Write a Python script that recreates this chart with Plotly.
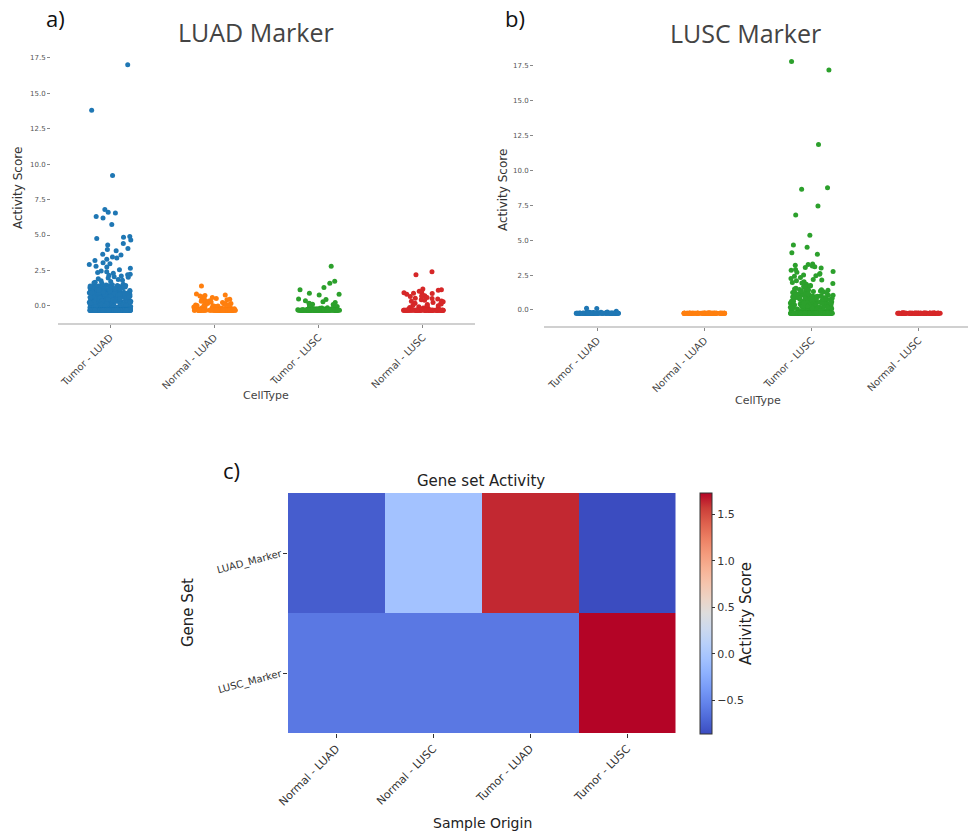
import math
import plotly.graph_objects as go

# ---------------- data ----------------
cell_types = ["Tumor - LUAD", "Normal - LUAD", "Tumor - LUSC", "Normal - LUSC"]
point_colors = ["#1f77b4", "#ff7f0e", "#2ca02c", "#d62728"]

# Panel a) LUAD Marker activity score of each cell, by cell type
a_tumor_luad = [17.0, 13.8, 9.2, 6.8, 6.6, 6.55, 6.3, 6.2, 5.75, 4.9, 4.85, 4.75, 4.65,
                4.4, 4.3, 4.05, 3.98, 3.9, 3.65, 3.6, 3.45, 3.38, 3.3, 3.2, 3.05, 2.98,
                2.92, 2.8, 2.74, 2.66, 2.55, 2.47, 2.41, 2.36, 2.3, 2.24, 2.2, 2.16, 2.11,
                2.06, 2.02, 1.97, 1.92, 1.86, 1.82, 1.77, 1.73, 1.68, 1.64, 1.61, 1.57, 1.53,
                1.49, 1.47, 1.44, 1.43, 1.4, 1.38, 1.36, 1.35, 1.32, 1.3, 1.29, 1.26, 1.24,
                1.23, 1.2, 1.18, 1.17, 1.14, 1.12, 1.11, 1.08, 1.06, 1.05, 1.02, 1.0, 0.99,
                0.97, 0.95, 0.93, 0.92, 0.9, 0.88, 0.86, 0.85, 0.83, 0.81, 0.8, 0.78, 0.76,
                0.75, 0.73, 0.71, 0.7, 0.68, 0.66, 0.65, 0.63, 0.62, 0.6, 0.58, 0.57, 0.55,
                0.54, 0.52, 0.51, 0.49, 0.48, 0.46, 0.45, 0.43, 0.42, 0.4, 0.39, 0.37, 0.36,
                0.35, 0.33, 0.32, 0.3, 0.29, 0.27, 0.26, 0.25, 0.23, 0.22, 0.2, 0.19, 0.18,
                0.16, 0.15, 0.14, 0.12, 0.11, 0.1, 0.08, 0.07, 0.06, 0.04, 0.03, 0.02, 0.0,
                -0.01, -0.02, -0.04, -0.05, -0.06, -0.07, -0.09, -0.1, -0.11, -0.12, -0.13,
                -0.15, -0.16, -0.17, -0.18, -0.19, -0.2, -0.21, -0.22, -0.23, -0.24, -0.25,
                -0.26, -0.27, -0.28,
                1.45, 1.41, 1.37, 1.33, 1.28, 1.25, 1.21, 1.16, 1.13, 1.09, 1.07, 1.03, 1.01,
                0.98, 0.96, 0.94, 0.91, 0.89, 0.87, 0.84, 0.82, 0.79, 0.77, 0.74, 0.72, 0.69,
                0.67, 0.64, 0.61, 0.59, 0.56, 0.53, 0.5, 0.47, 0.44, 0.41, 0.38, 0.34, 0.31,
                0.28, 0.24, 0.21, 0.17, 0.13, 0.09, 0.05, 0.01, -0.03, -0.08, -0.14, -0.2,
                -0.25, 1.34, 1.27, 1.19, 1.1, 1.04, 0.96, 0.9, 0.87, 0.83, 0.79, 0.73, 0.69,
                0.64, 0.6, 0.56, 0.52, 0.48, 0.44, 0.4, 0.37, 0.33, 0.29, 0.25, 0.21, 0.18,
                0.14, 0.1, 0.06, 0.02, -0.02, -0.06, -0.1, -0.14, -0.18, -0.22, -0.26, 1.22,
                1.15, 1.06, 0.98, 0.92, 0.86, 0.8, 0.74, 0.68, 0.62, 0.57, 0.53, 0.47, 0.43,
                0.38, 0.33, 0.28, 0.23, 0.19, 0.15, 0.11, 0.07, 0.03, -0.01, -0.05, -0.09,
                -0.13, -0.17, -0.21, -0.24, -0.27, 0.95, 0.85, 0.75, 0.66, 0.58, 0.5, 0.42,
                0.35, 0.27, 0.2, 0.12, 0.04, -0.04, -0.11, -0.19, -0.23, -0.26, -0.28,
                1.12, 0.97, 0.81, 0.63, 0.46, 0.31, 0.16, 0.0, -0.12, -0.2, -0.24, -0.27,
                ] + [-0.3] * 150
a_normal_luad = [1.4, 0.85, 0.78, 0.74, 0.7, 0.66, 0.6, 0.55, 0.52, 0.47, 0.44, 0.4, 0.37, 0.33,
                 0.3, 0.27, 0.24, 0.2, 0.18, 0.15, 0.12, 0.1, 0.07, 0.05, 0.02, 0.0, -0.03, -0.05,
                 -0.08, -0.1, -0.12, -0.15, -0.17, -0.2, -0.22, -0.24, -0.26, 0.48, 0.36, 0.28,
                 0.17, 0.09, 0.03, -0.02, -0.07, -0.11, -0.14, -0.18, -0.21, -0.23, -0.25,
                 -0.27, -0.28, -0.16, -0.19, -0.24, -0.26] + [-0.3] * 60
a_tumor_lusc = [2.8, 1.75, 1.6, 1.3, 1.15, 0.9, 0.82, 0.78, 0.5, 0.45, 0.36, 0.3, 0.25, 0.2,
                0.15, 0.1, 0.06, 0.02, -0.04, -0.08, -0.12, -0.15, -0.18, -0.2, -0.22, -0.24,
                -0.26, -0.27, 0.12, 0.0, -0.1, -0.16, -0.19, -0.21, -0.23, -0.25, -0.26,
                -0.27, -0.28, -0.28, -0.22, -0.24] + [-0.3] * 90
a_normal_lusc = [2.42, 2.2, 1.2, 1.15, 1.1, 1.03, 0.98, 0.93, 0.88, 0.82, 0.78, 0.72, 0.66,
                 0.6, 0.55, 0.5, 0.44, 0.4, 0.35, 0.3, 0.25, 0.2, 0.14, 0.1, 0.05, 0.0, -0.05,
                 -0.1, -0.15, -0.2, -0.25, 0.9, 0.7, 0.52, 0.33, 0.17, 0.02, -0.08, -0.13,
                 -0.18, -0.22, -0.24, -0.26, -0.27] + [-0.3] * 60

# Panel b) LUSC Marker activity score of each cell, by cell type
b_tumor_luad = [0.12, 0.1, -0.1, -0.12, -0.15, -0.17, -0.18, -0.2, -0.16, -0.19] + [-0.23] * 80
b_normal_luad = [-0.23] * 80
b_tumor_lusc = [17.8, 17.2, 11.85, 8.75, 8.65, 7.45, 6.8, 5.35, 4.65, 4.5, 4.1, 4.0, 3.3,
                3.25, 3.2, 3.15, 3.1, 3.05, 3.0, 2.9, 2.75, 2.7, 2.62, 2.55, 2.5, 2.42,
                2.33, 2.25, 2.18, 2.1, 2.02, 1.96, 1.9, 1.84, 1.78, 1.72, 1.66, 1.6, 1.55,
                1.5, 1.47, 1.44, 1.41, 1.38, 1.35, 1.33, 1.3, 1.27, 1.25, 1.22, 1.2, 1.18,
                1.15, 1.13, 1.1, 1.08, 1.05, 1.03, 1.0, 0.98, 0.96, 0.94, 0.92, 0.9, 0.88,
                0.86, 0.84, 0.82, 0.8, 0.78, 0.76, 0.74, 0.72, 0.7, 0.68, 0.66, 0.64, 0.62,
                0.6, 0.58, 0.56, 0.54, 0.52, 0.5, 0.48, 0.46, 0.44, 0.42, 0.4, 0.38, 0.36,
                0.34, 0.32, 0.3, 0.28, 0.26, 0.24, 0.22, 0.2, 0.18, 0.16, 0.14, 0.12, 0.1,
                0.08, 0.06, 0.04, 0.02, 0.0, -0.02, -0.04, -0.06, -0.08, -0.1, -0.12, -0.14,
                -0.16, -0.18, -0.2, -0.21, -0.22,
                2.85, 2.45, 2.15, 1.93, 1.75, 1.62, 1.52, 1.43, 1.36, 1.29, 1.21, 1.16, 1.11,
                1.06, 1.01, 0.97, 0.93, 0.89, 0.85, 0.81, 0.77, 0.73, 0.69, 0.65, 0.61, 0.57,
                0.53, 0.49, 0.45, 0.41, 0.37, 0.33, 0.29, 0.25, 0.21, 0.17, 0.13, 0.09, 0.05,
                0.01, -0.03, -0.07, -0.11, -0.15, -0.19, 1.24, 1.14, 1.04, 0.95, 0.87, 0.79,
                0.71, 0.63, 0.55, 0.47, 0.39, 0.31, 0.23, 0.15, 0.07, -0.01, -0.09, -0.17,
                -0.21, 1.12, 0.99, 0.83, 0.67, 0.51, 0.35, 0.19, 0.03, -0.13, -0.2, 0.91,
                0.75, 0.59, 0.43, 0.27, 0.11, -0.05, -0.18, 0.8, 0.5, 0.2, -0.1, -0.22,
                ] + [-0.24] * 120
b_normal_lusc = [-0.2] + [-0.23] * 80

# Panel c) mean activity per gene set / sample origin
heat_x = ["Normal - LUAD", "Normal - LUSC", "Tumor - LUAD", "Tumor - LUSC"]
heat_y = ["LUAD_Marker", "LUSC_Marker"]
luad_marker_row = [-0.76, -0.05, 1.63, -0.86]
lusc_marker_row = [-0.6, -0.6, -0.6, 1.73]
z_min, z_max = -0.86, 1.73

coolwarm = [
    [0.0, "rgb(59,76,192)"], [0.0625, "rgb(77,104,215)"], [0.125, "rgb(98,130,234)"],
    [0.1875, "rgb(119,154,247)"], [0.25, "rgb(141,176,254)"], [0.3125, "rgb(163,194,255)"],
    [0.375, "rgb(184,208,249)"], [0.4375, "rgb(204,217,238)"], [0.5, "rgb(221,221,221)"],
    [0.5625, "rgb(236,211,197)"], [0.625, "rgb(245,196,173)"], [0.6875, "rgb(247,177,148)"],
    [0.75, "rgb(244,154,123)"], [0.8125, "rgb(236,127,99)"], [0.875, "rgb(222,96,77)"],
    [0.9375, "rgb(203,62,56)"], [1.0, "rgb(180,4,38)"],
]

W, H = 968, 836
JITTER = 0.2  # half-width of the strip jitter, in category units


def px_x(p):
    return p / W


def px_y(p):
    return 1 - p / H


def hash01(k):
    # deterministic scatter in [0, 1) used only for the horizontal strip jitter
    v = math.sin((k + 1) * 12.9898) * 43758.5453
    return v - math.floor(v)


fig = go.Figure()


def strip(values, cat_index, color, xa, ya, salt):
    xs = [cat_index + (hash01(k + salt) - 0.5) * 2 * JITTER for k in range(len(values))]
    fig.add_trace(go.Scatter(
        x=xs, y=values, xaxis=xa, yaxis=ya, mode="markers",
        marker=dict(color=color, size=5, line=dict(width=0)),
        showlegend=False, hoverinfo="y",
    ))


a_series = [a_tumor_luad, a_normal_luad, a_tumor_lusc, a_normal_lusc]
b_series = [b_tumor_luad, b_normal_luad, b_tumor_lusc, b_normal_lusc]
for i, (col, vals) in enumerate(zip(point_colors, a_series)):
    strip(vals, i, col, "x", "y", 1000 * i)
for i, (col, vals) in enumerate(zip(point_colors, b_series)):
    strip(vals, i, col, "x2", "y2", 5000 + 1000 * i)

fig.add_trace(go.Heatmap(
    z=[luad_marker_row, lusc_marker_row], x=heat_x, y=heat_y,
    xaxis="x3", yaxis="y3", zmin=z_min, zmax=z_max, colorscale=coolwarm,
    colorbar=dict(
        x=px_x(700), xanchor="left", xpad=0, y=px_y(734), yanchor="bottom", ypad=0,
        len=241 / H, lenmode="fraction", thickness=12,
        outlinewidth=1, outlinecolor="#333",
        ticks="outside", ticklen=3, tickcolor="#333",
        tickvals=[-0.5, 0.0, 0.5, 1.0, 1.5], tickformat=".1f",
        tickfont=dict(family="DejaVu Sans", size=11, color="#333"),
        title=dict(text="Activity Score", side="right",
                   font=dict(family="DejaVu Sans", size=15, color="#222")),
    ),
))

tick_vals_y = [0, 2.5, 5, 7.5, 10, 12.5, 15, 17.5]
strip_x_common = dict(
    tickvals=[0, 1, 2, 3], ticktext=cell_types, automargin=False,
    showline=True, linecolor="#d0d0d0", linewidth=1.5, ticks="outside", ticklen=3,
    tickcolor="#888", tickangle=-45, showgrid=False, zeroline=False,
    tickfont=dict(family="DejaVu Sans", size=10, color="#444"),
)
strip_y_common = dict(
    showline=False, showgrid=False, zeroline=False, ticks="outside", ticklen=3,
    tickcolor="#888", tickvals=tick_vals_y, tickformat=".1f", automargin=False,
    tickfont=dict(family="DejaVu Sans", size=7, color="#555"), anchor="free",
)

fig.update_layout(
    width=W, height=H, margin=dict(l=0, r=0, t=0, b=0, autoexpand=False),
    paper_bgcolor="white", plot_bgcolor="white", showlegend=False,
    xaxis=dict(domain=[px_x(58), px_x(475)], range=[-0.5, 3.5], anchor="y", **strip_x_common),
    yaxis=dict(domain=[px_y(323), px_y(52)], range=[-1.2, 17.9], position=px_x(50), **strip_y_common),
    xaxis2=dict(domain=[px_x(544), 1.0], range=[-0.5, 3.46], anchor="y2", **strip_x_common),
    yaxis2=dict(domain=[px_y(326), px_y(56)], range=[-1.15, 18.2], position=px_x(533), **strip_y_common),
    xaxis3=dict(domain=[px_x(288), px_x(675.5)], anchor="y3", ticks="outside", ticklen=4,
                tickcolor="#333", tickangle=-45, showgrid=False, zeroline=False, automargin=False,
                tickfont=dict(family="DejaVu Sans", size=11, color="#333")),
    yaxis3=dict(domain=[px_y(733), px_y(493)], anchor="x3", autorange="reversed",
                ticks="outside", ticklen=4, tickcolor="#333", tickangle=-15,
                showgrid=False, zeroline=False, automargin=False,
                tickfont=dict(family="DejaVu Sans", size=10, color="#333")),
)


def note(text, x, y, size, color="#222", family="DejaVu Sans", angle=0):
    fig.add_annotation(text=text, x=px_x(x), y=px_y(y), xref="paper", yref="paper",
                       showarrow=False, xanchor="center", yanchor="middle", textangle=angle,
                       font=dict(family=family, size=size, color=color))


note("a)", 55, 18, 22, "#111", "Open Sans")
note("b)", 515, 18, 22, "#111", "Open Sans")
note("c)", 231, 470, 22, "#111", "Open Sans")
note("LUAD Marker", 256, 32, 25, "#444", "Open Sans")
note("LUSC Marker", 745, 33, 25, "#444", "Open Sans")
note("Activity Score", 18, 188, 12, "#333", angle=-90)
note("Activity Score", 503, 190, 12, "#333", angle=-90)
note("CellType", 266, 395, 11, "#444")
note("CellType", 758, 400, 11, "#444")
note("Gene set Activity", 481, 481, 15, "#222")
note("Sample Origin", 482, 823, 14, "#222")
note("Gene Set", 188, 613, 15, "#222", angle=-90)

fig.write_html("out.html")
